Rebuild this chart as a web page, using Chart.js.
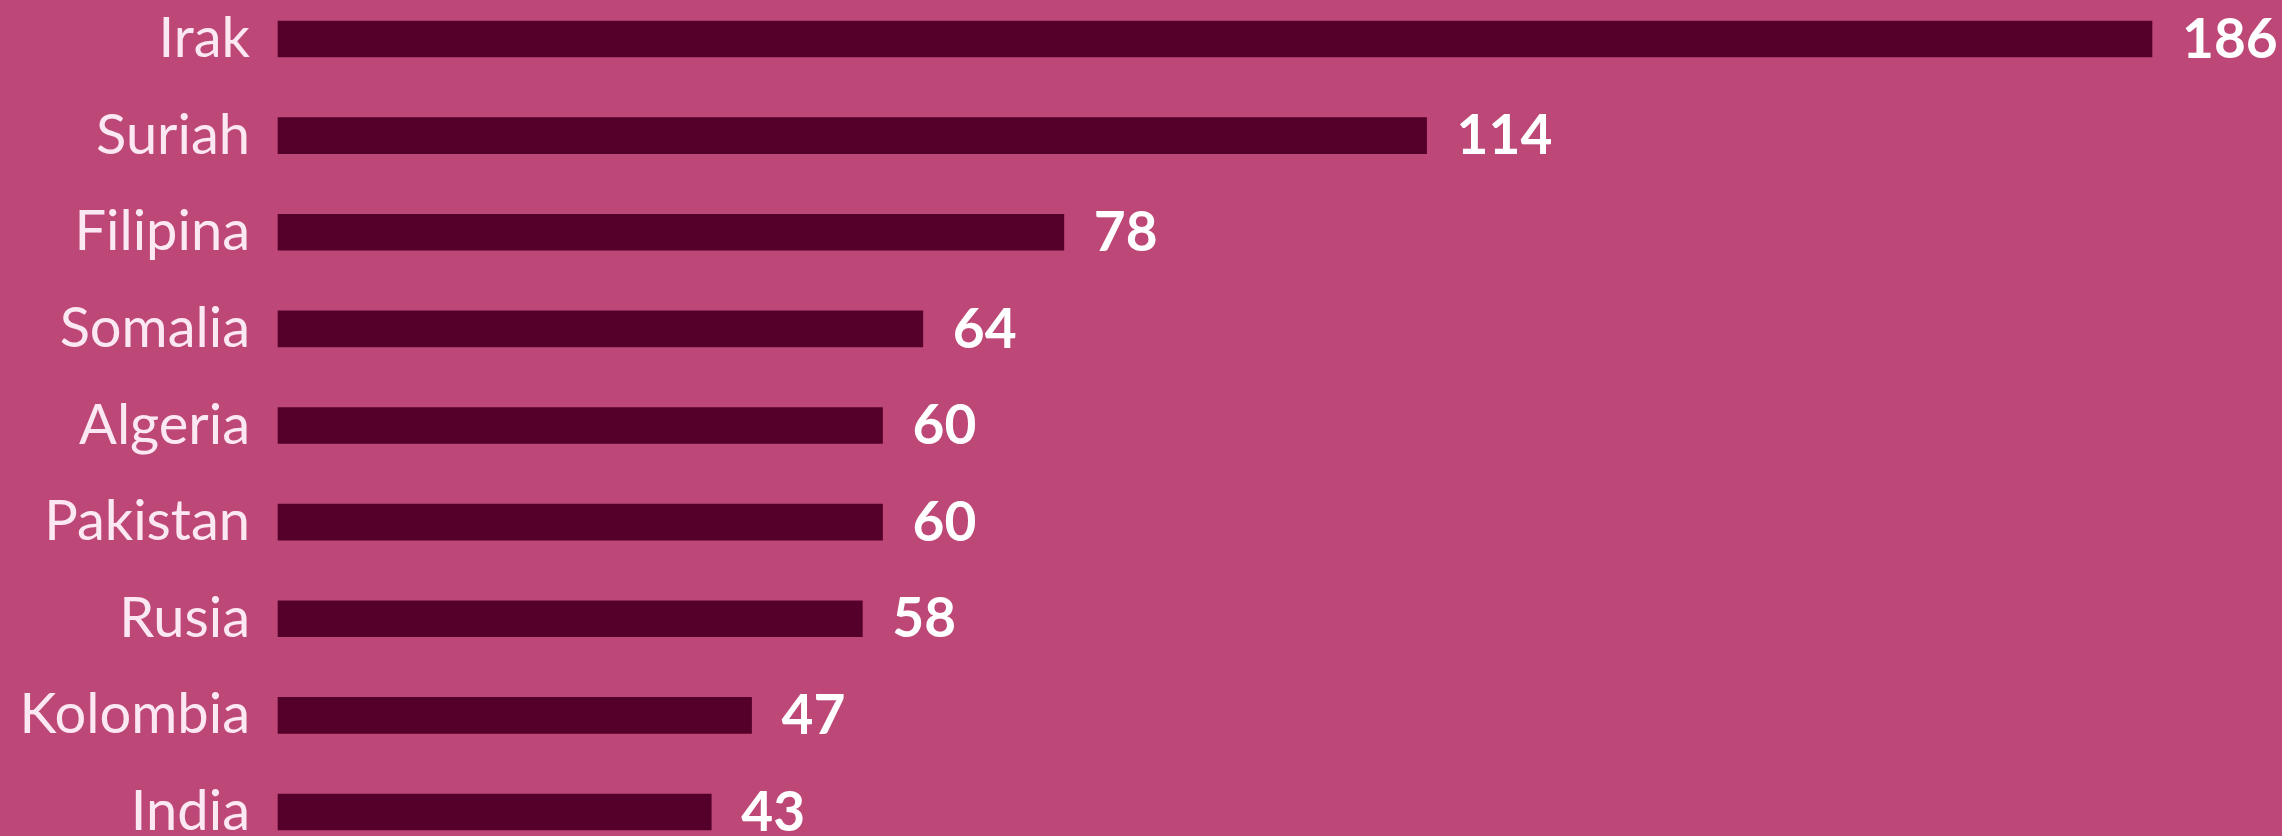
<!DOCTYPE html>
<html>
<head>
<meta charset="utf-8">
<script src="https://cdn.jsdelivr.net/npm/chart.js@4/dist/chart.umd.min.js"></script>
<style>
  html, body { margin: 0; padding: 0; background: #bd4878; }
  #wrap { width: 2282px; height: 836px; position: relative; }
</style>
</head>
<body>
<div id="wrap"><canvas id="c" width="2282" height="836"></canvas></div>
<script>
const categories = ["Irak", "Suriah", "Filipina", "Somalia", "Algeria", "Pakistan", "Rusia", "Kolombia", "India"];
const values = [186, 114, 78, 64, 60, 60, 58, 47, 43];

const BG = "#bd4878";
const BAR = "#54002a";
const LABEL = "#fbe8f2";

const valueLabels = {
  id: "valueLabels",
  afterDatasetsDraw(chart) {
    const ctx = chart.ctx;
    const meta = chart.getDatasetMeta(0);
    ctx.save();
    ctx.font = "bold 55px Lato";
    ctx.fillStyle = "#ffffff";
    ctx.textAlign = "left";
    ctx.textBaseline = "middle";
    meta.data.forEach((bar, i) => {
      ctx.fillText(String(values[i]), bar.x + 30, bar.y + 1);
    });
    ctx.restore();
  }
};

function draw() {
  new Chart(document.getElementById("c"), {
    type: "bar",
    data: {
      labels: categories,
      datasets: [{
        data: values,
        backgroundColor: BAR,
        borderWidth: 0,
        barThickness: 36,
        clip: false
      }]
    },
    options: {
      indexAxis: "y",
      responsive: false,
      animation: false,
      maintainAspectRatio: false,
      layout: { padding: { top: 39, bottom: 24, left: 0, right: 130 } },
      plugins: { legend: { display: false }, tooltip: { enabled: false } },
      scales: {
        x: {
          display: false,
          min: 0,
          max: 186
        },
        y: {
          offset: false,
          grid: { display: false, drawTicks: false },
          border: { display: false },
          ticks: {
            color: LABEL,
            font: { family: "Lato", size: 56 },
            padding: 28
          },
          afterFit(scale) {
            scale.width = 278;
            scale.paddingTop = 0;
            scale.paddingBottom = 0;
          }
        }
      }
    },
    plugins: [valueLabels]
  });
}
if (document.fonts && document.fonts.load) {
  Promise.all([document.fonts.load("56px Lato"), document.fonts.load("bold 55px Lato")]).then(draw, draw);
} else { draw(); }
</script>
</body>
</html>
